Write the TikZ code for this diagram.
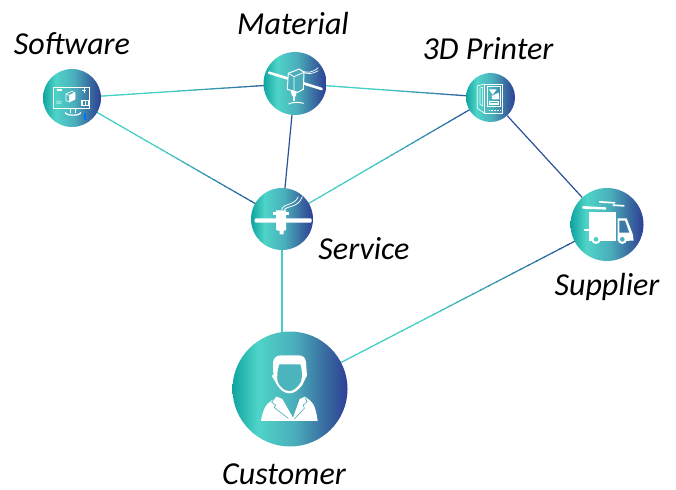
\documentclass[tikz,border=0pt]{standalone}
\usepackage{fontspec}
\setmainfont{Carlito}
\usetikzlibrary{calc,backgrounds}
\definecolor{gA}{HTML}{0FA5A0}
\definecolor{gB}{HTML}{4FD4C8}
\definecolor{gC}{HTML}{4AAEBB}
\definecolor{gD}{HTML}{38689F}
\definecolor{gE}{HTML}{2E3F97}
\definecolor{lineT}{HTML}{45CFC6}
\definecolor{lineB}{HTML}{2A5099}
\definecolor{midT}{HTML}{3FB9B8}
\pgfdeclarehorizontalshading{nodegrad}{100bp}{color(0bp)=(gA); color(25bp)=(gA); color(36bp)=(gB); color(52bp)=(gC); color(66bp)=(gD); color(75bp)=(gE); color(100bp)=(gE)}
\newcommand{\gradedge}[4]{%
  \draw[line width=0.4pt,color=#3] (#1) -- (#2);
  \foreach \k in {0,...,39}{%
    \pgfmathsetmacro{\ta}{\k/40}\pgfmathsetmacro{\tb}{(\k+1.2)/40}\pgfmathtruncatemacro{\pc}{100*max(0,min(1,((\k+.5)/40-0.42)/0.5))}%
    \draw[edge,color=#4!\pc!#3] ($(#1)!\ta!(#2)$) -- ($(#1)!\tb!(#2)$);
  }%
}
\tikzset{
  hub/.style={circle,inner sep=0pt,shading=nodegrad,minimum size=#1},
  edge/.style={line width=1.2pt},
  lbl/.style={font=\itshape\fontsize{32}{34}\selectfont,inner sep=0pt,text=black},
  icn/.style={x=0.3333pt,y=-0.3333pt}
}
\begin{document}
\begin{tikzpicture}[x=1pt,y=-1pt]
\useasboundingbox (0,0) rectangle (676,489);
\node[hub=58pt] (soft) at (72,98) {};
\node[hub=63pt] (mat) at (295,83.5) {};
\node[hub=49pt] (prn) at (490.5,97.5) {};
\node[hub=62pt] (srv) at (282,219) {};
\node[hub=73pt] (sup) at (607,224.5) {};
\node[hub=115pt] (cus) at (290,389) {};
\node[lbl] (tsoft) at (72,44) {Software};
\node[lbl] (tmat) at (293,24) {Material};
\node[lbl] (tprn) at (488,49) {3D Printer};
\node[lbl] (tsrv) at (364,249) {Service};
\node[lbl] (tsup) at (607,287) {Supplier};
\node[lbl] (tcus) at (284,474) {Customer};
\begin{scope}[on background layer]
\gradedge{soft}{mat}{lineT}{lineB}
\gradedge{soft}{srv}{lineT}{lineB}
\gradedge{mat}{prn}{lineT}{lineB}
\draw[edge,color=lineB] (mat) -- (srv);
\gradedge{srv}{prn}{lineT}{lineB}
\draw[edge,color=lineB] (prn) -- (sup);
\draw[edge,color=lineT] (srv) -- (srv |- cus);
\gradedge{cus}{sup}{lineT}{lineB}
\end{scope}
% Software icon
\begin{scope}[shift={(30,40)},icn]
\draw[white,line width=1pt] (70,142) rectangle (178,205);
\fill[white] (82,146) rectangle (96,152);
\draw[white,line width=0.6pt,line join=round] (108,162) -- (125,154) -- (135,158) -- (135,178) -- (118,186) -- (108,182) -- cycle (108,162) -- (118,166) -- (135,158) (118,166) -- (118,186);
\fill[white] (118,166) -- (135,158) -- (135,178) -- (118,186) -- cycle;
\draw[white,line width=0.5pt] (156,150) -- (168,150) (162,145) -- (162,158);
\node[text=white,inner sep=0pt,font=\fontsize{5}{5}\selectfont] (t3d) at (87,190) {3D};
\fill[white] (153,180) rectangle (177,199);
\fill[midT!60!lineB] (158,184) rectangle (165,195);
\fill[midT!60!lineB] (169,184) rectangle (173,195);
\draw[white,line width=1.2pt] (121,205) -- (121,218) (137,205) -- (137,218);
\draw[white,line width=1.2pt,line cap=round] (106,218) .. controls (108,228) and (150,228) .. (152,218);
\fill[blue!55!cyan] (161,218) rectangle (167,240);
\end{scope}
% Material icon
\begin{scope}[shift={(250,40)},icn]
\draw[white,line width=2.6pt,line cap=round] (57,98) -- (215,147);
\draw[white,line width=0.7pt] (150,90) .. controls (170,100) and (185,100) .. (205,83) (152,95) .. controls (172,104) and (190,102) .. (205,92);
\path[fill=gC,draw=white,line width=1pt,line join=round] (115,100) -- (148,87) -- (162,97) -- (160,148) -- (143,157) -- (112,148) -- cycle;
\draw[white,line width=0.8pt] (115,100) -- (132,110) -- (162,97) (132,110) -- (132,153);
\fill[white] (122,150) -- (140,156) -- (138,168) -- (131,172) -- (125,165) -- cycle;
\fill[white] (128,172) rectangle (134,183);
\draw[white,line width=1pt,line cap=round] (116,192) .. controls (125,186) and (150,186) .. (160,190);
\end{scope}
% Printer icon
\begin{scope}[shift={(450,60)},icn]
\draw[white,line width=0.7pt,line join=round] (104,72) rectangle (158,160);
\draw[white,line width=0.7pt,line join=round] (104,72) -- (82,78) -- (82,145) -- (104,160);
\draw[white,line width=0.6pt] (90,84) -- (98,82) -- (98,138) -- (90,133) -- cycle;
\draw[white,line width=0.6pt] (112,80) rectangle (150,140);
\fill[white] (117,88) -- (140,88) -- (128,104) -- cycle;
\fill[white] (128,104) rectangle (131,110);
\fill[white] (125,108) -- (146,98) -- (148,118) -- (127,118) -- cycle;
\fill[white] (116,122) rectangle (148,135);
\fill[midT] (120,126) rectangle (144,129);
\draw[white,line width=0.5pt,dash pattern=on 1pt off 0.5pt] (118,151) -- (150,151);
\end{scope}
% Service icon
\begin{scope}[shift={(240,175)},icn]
\draw[white,line width=0.8pt] (125,105) .. controls (127,85) and (165,92) .. (175,65) (133,105) .. controls (137,92) and (175,100) .. (187,65);
\fill[white,rounded corners=1pt] (44,130) rectangle (215,143);
\fill[white] (108,106) -- (138,106) -- (138,165) -- (131,168) -- (131,178) -- (119,178) -- (119,168) -- (108,165) -- cycle;
\fill[white] (98,110) rectangle (108,120);
\fill[white] (138,110) rectangle (148,120);
\end{scope}
% Supplier icon
\begin{scope}[shift={(560,180)},icn]
\fill[white] (117,63) -- (165,66) -- (165,71) -- (117,68) -- cycle;
\fill[white] (158,73) -- (193,75) -- (193,80) -- (158,78) -- cycle;
\fill[white] (67,78) -- (138,82) -- (138,89) -- (67,86) -- cycle;
\fill[white] (87,97) rectangle (168,183);
\fill[white] (72,147) rectangle (90,152);
\fill[white] (173,115) -- (200,115) -- (218,162) -- (221,182) -- (173,183) -- cycle;
\fill[gD!75!gC] (178,122) -- (195,122) -- (208,158) -- (178,158) -- cycle;
\fill[white] (108,178) circle[radius=14];
\fill[gB!80!gC] (108,178) circle[radius=7];
\fill[white] (187,178) circle[radius=14];
\fill[gC] (187,178) circle[radius=7];
\end{scope}
% Customer icon
\begin{scope}[shift={(225,325)},icn]
\fill[white] (145,150) -- (144,112) .. controls (146,98) and (155,91) .. (170,91) -- (220,91) .. controls (234,91) and (242,98) .. (243,112) -- (246,152) .. controls (240,162) and (236,172) .. (232,180) .. controls (220,195) and (208,205) .. (193,205) .. controls (178,205) and (165,195) .. (155,178) .. controls (150,170) and (146,160) .. (140,152) -- cycle;
\fill[gC!85!gB] (163,118) -- (226,118) .. controls (232,135) and (232,155) .. (228,170) .. controls (218,188) and (205,198) .. (193,198) .. controls (180,198) and (166,188) .. (158,170) .. controls (155,155) and (157,135) .. (163,118) -- cycle;
\fill[white] (108,288) .. controls (112,262) and (120,238) .. (138,228) -- (155,215) -- (172,222) -- (204,278) -- (224,222) -- (240,215) -- (255,226) .. controls (270,238) and (274,262) .. (278,288) -- cycle;
\draw[gC,line width=0.6pt] (150,218) -- (140,232) -- (152,240) -- (148,248) -- (190,280);
\draw[gC,line width=0.6pt] (240,218) -- (246,230) -- (235,240) -- (238,250) -- (208,282);
\end{scope}
\end{tikzpicture}
\end{document}
